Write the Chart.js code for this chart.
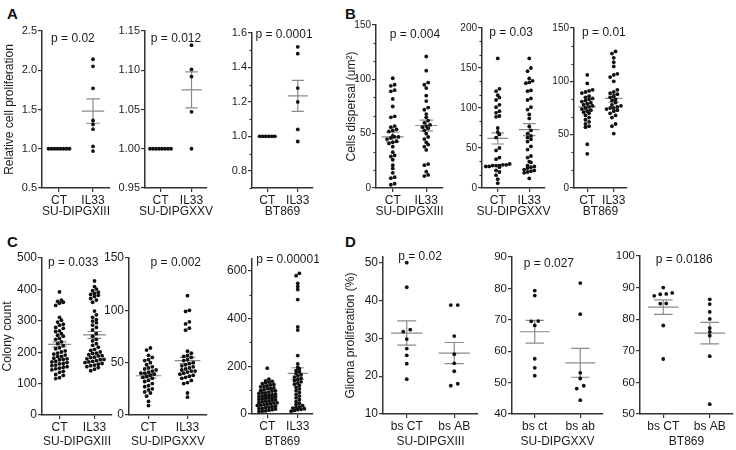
<!DOCTYPE html>
<html>
<head>
<meta charset="utf-8">
<title>IL33 dot plots</title>
<script src="https://cdn.jsdelivr.net/npm/chart.js@4.4.1/dist/chart.umd.min.js"></script>
<style>
  body { margin: 0; width: 736px; height: 450px; background: #fff; position: relative; overflow: hidden; }
  canvas { position: absolute; }
  .tag { position: absolute; font: bold 15px "Liberation Sans", Arial, sans-serif; color: #111; }
</style>
</head>
<body>
<div class="tag" style="left:7px;top:5px">A</div>
<div class="tag" style="left:345px;top:5px">B</div>
<div class="tag" style="left:7px;top:233px">C</div>
<div class="tag" style="left:345px;top:233px">D</div>
<script>
'use strict';

// ******* DATA ********
const cellLines = ['SU-DIPGXIII', 'SU-DIPGXXV', 'BT869'];
const groupsIL = ['CT', 'IL33'];
const groupsBs = ['bs CT', 'bs AB'];
const groupsBsLow = ['bs ct', 'bs ab'];

// A - relative cell proliferation
const profXiiiCT = [1, 1, 1, 1, 1, 1, 1, 1];
const profXiiiIL = [2.14, 2.05, 1.77, 1.36, 1.31, 1.25, 1.03, 0.97];
const profXxvCT = [1, 1, 1, 1, 1, 1, 1, 1];
const profXxvIL = [1.132, 1.101, 1.092, 1.047, 1.0];
const profBtCT = [1, 1, 1, 1, 1, 1];
const profBtIL = [1.52, 1.48, 1.28, 1.2, 1.04, 0.97];
const profMean = [[1, 1.48], [1, 1.075], [1, 1.235]];
const profSem = [[0, 0.155], [0, 0.023], [0, 0.09]];
const profP = ['p = 0.02', 'p = 0.012', 'p = 0.0001'];
const profTicks = [[0.5, 1, 1.5, 2, 2.5], [0.95, 1, 1.05, 1.1, 1.15], [0.8, 1, 1.2, 1.4, 1.6]];

// B - cells dispersal
const dispXiiiCT = [101, 95, 94, 90, 89, 82, 75, 66, 65, 57, 56, 54, 53, 52, 48, 47, 47, 46, 45, 43, 42, 41, 38, 33, 30, 29, 26, 21, 18, 14, 10, 9, 4, 3];
const dispXiiiIL = [121, 108, 97, 95, 92, 85, 80, 74, 72, 68, 65, 62, 60, 58, 57, 56, 55, 53, 50, 47, 45, 42, 40, 38, 35, 22, 21, 15, 12, 11];
const dispXxvCT = [162, 124, 121, 116, 113, 110, 104, 101, 96, 94, 90, 89, 75, 70, 67, 63, 50, 47, 38, 36, 30, 29, 29, 28, 28, 28, 27, 27, 26, 22, 20, 16, 11, 6];
const dispXxvIL = [162, 150, 146, 137, 134, 132, 131, 122, 121, 112, 110, 101, 98, 92, 87, 77, 72, 68, 65, 63, 61, 58, 52, 48, 40, 38, 33, 32, 28, 27, 26, 25, 23, 22, 21, 20, 19, 12];
const dispBtCT = [106, 98, 92, 91, 90, 89, 86, 85, 84, 83, 82, 81, 80, 79, 78, 77, 76, 75, 74, 73, 72, 71, 70, 68, 66, 64, 62, 60, 58, 57, 41, 32];
const dispBtIL = [128, 126, 122, 118, 114, 107, 106, 104, 100, 92, 90, 89, 88, 86, 85, 83, 82, 80, 78, 77, 76, 75, 75, 74, 73, 72, 70, 68, 66, 60, 58, 51];
const dispMean = [[47, 57.5], [62, 73], [76, 84]];
const dispSem = [[4.5, 5], [7, 7.5], [2.8, 3.5]];
const dispP = ['p = 0.004', 'p = 0.03', 'p = 0.01'];
const dispTicks = [[0, 50, 100, 150], [0, 50, 100, 150, 200], [0, 50, 100, 150]];

// C - colony count
const colXiiiCT = [392, 366, 362, 359, 356, 349, 311, 302, 296, 289, 286, 279, 276, 268, 266, 259, 254, 251, 244, 241, 233, 227, 221, 214, 211, 204, 201, 197, 194, 191, 187, 186, 181, 179, 177, 176, 171, 169, 167, 164, 163, 159, 157, 154, 152, 149, 147, 144, 139, 136, 129, 126, 119, 116];
const colXiiiIL = [427, 409, 401, 396, 391, 387, 384, 381, 377, 371, 366, 359, 331, 319, 311, 304, 299, 294, 286, 279, 271, 259, 251, 241, 236, 227, 222, 216, 209, 206, 201, 197, 196, 192, 189, 188, 184, 183, 179, 177, 176, 173, 171, 169, 167, 164, 162, 159, 157, 154, 151, 146, 141];
const colXxvCT = [64, 62, 57, 55, 53, 52, 50, 48, 46, 45, 44, 43, 42, 41, 40, 40, 39, 38, 37, 36, 35, 33, 32, 30, 28, 27, 25, 24, 22, 21, 18, 13, 9];
const colXxvIL = [114, 100, 99, 89, 87, 83, 81, 61, 59, 57, 56, 55, 53, 52, 50, 49, 48, 47, 46, 45, 44, 43, 42, 42, 41, 40, 39, 38, 37, 36, 35, 33, 31, 30, 21, 17];
const colBtCT = [192, 146, 139, 137, 134, 131, 127, 124, 122, 118, 116, 114, 109, 107, 106, 102, 99, 97, 96, 92, 89, 88, 86, 83, 81, 79, 78, 75, 73, 72, 69, 68, 66, 63, 61, 59, 58, 55, 53, 51, 49, 47, 46, 43, 41, 39, 37, 36, 33, 31, 28, 27, 24, 22, 21, 18, 16, 13, 12, 10];
const colBtIL = [590, 580, 548, 535, 522, 480, 365, 352, 245, 210, 195, 190, 182, 178, 170, 165, 160, 155, 150, 145, 140, 135, 130, 125, 120, 112, 105, 98, 90, 82, 75, 68, 60, 52, 45, 40, 35, 30, 28, 25, 22, 20, 18, 15, 12];
const colMean = [[225, 255], [37.5, 52], [68, 170]];
const colSem = [[8, 11], [2.2, 3], [6, 24]];
const colP = ['p = 0.033', 'p = 0.002', 'p = 0.00001'];
const colTicks = [[0, 100, 200, 300, 400, 500], [0, 50, 100, 150], [0, 200, 400, 600]];

// D - glioma proliferation
const gliXiiiCT = [50.0, 43.5, 32.3, 31.8, 29.8, 27.3, 25.5, 23.3, 19.2];
const gliXiiiAB = [38.8, 38.8, 30.6, 25.8, 23.4, 21.3, 18.0, 17.5];
const gliXxvCT = [79.3, 77.7, 69.6, 69.5, 68.2, 57.6, 54.7, 52.2];
const gliXxvAB = [81.7, 71.8, 53.1, 51.3, 49.0, 48.1, 44.4];
const gliBtCT = [90.0, 88.3, 88.0, 87.9, 87.4, 85.0, 84.9, 78.0, 67.4];
const gliBtAB = [86.3, 84.8, 82.3, 80.1, 77.2, 76.0, 74.8, 68.3, 53.1];
const gliMean = [[31.4, 26.1], [66.2, 56.3], [83.8, 75.6]];
const gliSem = [[3.2, 2.8], [3.6, 4.6], [2.3, 3.4]];
const gliP = ['p = 0.02', 'p = 0.027', 'p = 0.0186'];
const gliTicks = [[10, 20, 30, 40, 50], [40, 50, 60, 70, 80, 90], [50, 60, 70, 80, 90, 100]];

// ******* STYLE ********
const axisColor = '#333';
const dotColor = '#111';
const barColor = '#8a8a8a';
const fontFamily = '"Liberation Sans", Arial, sans-serif';
Chart.defaults.font.family = fontFamily;
Chart.defaults.color = '#1a1a1a';

// minor ticks splitting every major interval in n parts
function minorsOf(ticks, n) {
  let out = [];
  for (let i = 0; i < ticks.length - 1; i++) {
    let step = (ticks[i + 1] - ticks[i]) / n;
    for (let k = 1; k < n; k++) out.push(ticks[i] + k * step);
  }
  return out;
}

// ******* PANEL LAYOUT ********
let panels = [
  {x0: 42, x1: 110, y0: 31, y1: 188, left: 2, min: 0.5, max: 2.5, ticks: profTicks[0], dec: 1, tickSize: 11,
    groups: groupsIL, line: cellLines[0], sets: [profXiiiCT, profXiiiIL], mean: profMean[0], sem: profSem[0],
    p: profP[0], pX: 1.41, pDy: 8, yTitle: 'Relative cell proliferation', gap: 3, bin: 3, xh: 31},
  {x0: 145, x1: 207, y0: 31, y1: 188, min: 0.95, max: 1.15, ticks: profTicks[1], dec: 2, tickSize: 11,
    groups: groupsIL, line: cellLines[1], sets: [profXxvCT, profXxvIL], mean: profMean[1], sem: profSem[1],
    p: profP[1], pX: 1.5, pDy: 8, gap: 3, bin: 3, xh: 31},
  {x0: 252, x1: 313, y0: 33, y1: 188, min: 0.7, max: 1.6, ticks: profTicks[2], dec: 1, tickSize: 11,
    minor: [0.7, 0.9, 1.1, 1.3, 1.5],
    groups: groupsIL, line: cellLines[2], sets: [profBtCT, profBtIL], mean: profMean[2], sem: profSem[2],
    p: profP[2], pX: 1.55, pDy: 2, gap: 3, bin: 3, xh: 31},
  {x0: 376, x1: 443, y0: 25, y1: 188, left: 344, min: 0, max: 150, ticks: dispTicks[0], dec: 0, tickSize: 10,
    minor: minorsOf(dispTicks[0], 3),
    groups: groupsIL, line: cellLines[0], sets: [dispXiiiCT, dispXiiiIL], mean: dispMean[0], sem: dispSem[0],
    p: dispP[0], pX: 1.66, pDy: 10, yTitle: 'Cells dispersal (um\u00b2)', gap: 3.8, bin: 3.2, xh: 31},
  {x0: 482, x1: 545, y0: 28, y1: 188, min: 0, max: 200, ticks: dispTicks[1], dec: 0, tickSize: 10,
    minor: minorsOf(dispTicks[1], 3),
    groups: groupsIL, line: cellLines[1], sets: [dispXxvCT, dispXxvIL], mean: dispMean[1], sem: dispSem[1],
    p: dispP[1], pX: 1.42, pDy: 5, gap: 3.4, bin: 3.2, xh: 31},
  {x0: 574, x1: 627, y0: 28, y1: 188, min: 0, max: 150, ticks: dispTicks[2], dec: 0, tickSize: 10,
    minor: minorsOf(dispTicks[2], 3),
    groups: groupsIL, line: cellLines[2], sets: [dispBtCT, dispBtIL], mean: dispMean[2], sem: dispSem[2],
    p: dispP[2], pX: 1.63, pDy: 5, gap: 3.6, bin: 3.2, xh: 31},
  {x0: 42, x1: 112, y0: 258, y1: 415, left: 0, min: 0, max: 500, ticks: colTicks[0], dec: 0, tickSize: 12,
    groups: groupsIL, line: cellLines[0], sets: [colXiiiCT, colXiiiIL], mean: colMean[0], sem: colSem[0],
    p: colP[0], pX: 1.39, pDy: 5, yTitle: 'Colony count', gap: 3.8, bin: 3.2, xh: 34},
  {x0: 129, x1: 207, y0: 258, y1: 415, min: 0, max: 150, ticks: colTicks[1], dec: 0, tickSize: 12,
    groups: groupsIL, line: cellLines[1], sets: [colXxvCT, colXxvIL], mean: colMean[1], sem: colSem[1],
    p: colP[1], pX: 1.7, pDy: 5, gap: 3.8, bin: 3.2, xh: 34},
  {x0: 252, x1: 313, y0: 259, y1: 414, min: 0, max: 650, ticks: colTicks[2], dec: 0, tickSize: 12,
    minor: [100, 300, 500],
    groups: groupsIL, line: cellLines[2], sets: [colBtCT, colBtIL], mean: colMean[2], sem: colSem[2],
    p: colP[2], pX: 1.68, pDy: 1, gap: 3.3, bin: 2.7, xh: 35},
  {x0: 383, x1: 478, y0: 257, y1: 414, left: 343, min: 10, max: 51.5, ticks: gliTicks[0], dec: 0, tickSize: 12,
    groups: groupsBs, line: cellLines[0], sets: [gliXiiiCT, gliXiiiAB], mean: gliMean[0], sem: gliSem[0],
    p: gliP[0], pX: 1.28, pDy: 0, yTitle: 'Glioma proliferation (%)', gap: 7, bin: 3.5, xh: 35},
  {x0: 512, x1: 603, y0: 257, y1: 414, min: 40, max: 90, ticks: gliTicks[1], dec: 0, tickSize: 11.5,
    groups: groupsBsLow, line: cellLines[1], sets: [gliXxvCT, gliXxvAB], mean: gliMean[1], sem: gliSem[1],
    p: gliP[1], pX: 1.31, pDy: 7, gap: 7, bin: 3.5, xh: 35},
  {x0: 640, x1: 733, y0: 256, y1: 414, min: 50, max: 100, ticks: gliTicks[2], dec: 0, tickSize: 11.5,
    groups: groupsBs, line: cellLines[2], sets: [gliBtCT, gliBtAB], mean: gliMean[2], sem: gliSem[2],
    p: gliP[2], pX: 1.45, pDy: 4, gap: 6, bin: 3.5, xh: 35}
];

// ****** HELPERS ******

// Prism-like column scatter: close values share a centred row
function swarm(values, center, p) {
  let pyPer = (p.y1 - p.y0) / (p.max - p.min);
  let pxPer = (p.x1 - p.x0) / 2;
  let sorted = values.slice().sort((a, b) => a - b);
  let rows = [];
  let row = null;
  sorted.forEach(v => {
    let py = (v - p.min) * pyPer;
    if (!row || py - row.start > p.bin) {
      row = {start: py, vals: []};
      rows.push(row);
    }
    row.vals.push(v);
  });
  let pts = [];
  rows.forEach(r => {
    r.vals.forEach((v, k) => {
      let off = (k - (r.vals.length - 1) / 2) * p.gap;
      pts.push({x: center + off / pxPer, y: v});
    });
  });
  return pts;
}

// mean line + SEM whiskers as one broken line
function errorBar(center, mean, sem) {
  let m = 0.33, w = 0.2;
  return [
    {x: center - m, y: mean}, {x: center + m, y: mean}, {x: center, y: null},
    {x: center - w, y: mean + sem}, {x: center + w, y: mean + sem}, {x: center, y: null},
    {x: center - w, y: mean - sem}, {x: center + w, y: mean - sem}, {x: center, y: null},
    {x: center, y: mean - sem}, {x: center, y: mean + sem}
  ];
}

let decor = {
  id: 'decor',
  afterDraw(chart) {
    let p = chart.options.plugins.decor;
    let ctx = chart.ctx;
    let area = chart.chartArea;
    ctx.save();
    if (p.minor) {
      ctx.strokeStyle = axisColor;
      ctx.lineWidth = 1.2;
      p.minor.forEach(v => {
        let y = Math.round(chart.scales.y.getPixelForValue(v)) + 0.5;
        ctx.beginPath();
        ctx.moveTo(area.left - 2.5, y);
        ctx.lineTo(area.left, y);
        ctx.stroke();
      });
    }
    ctx.fillStyle = '#1a1a1a';
    ctx.font = '12px ' + fontFamily;
    ctx.textAlign = 'center';
    ctx.textBaseline = 'middle';
    // p value
    ctx.fillText(p.p, chart.scales.x.getPixelForValue(p.pX), area.top + p.pDy);
    // cell line name under the group labels
    ctx.fillText(p.line, (area.left + area.right) / 2, area.bottom + p.xh - 7.5);
    ctx.restore();
  }
};

function buildPanel(p) {
  let left = p.left !== undefined ? p.left : p.x0 - 32;
  let axisW = p.x0 - left;
  let top = p.y0 - 10;
  let w = p.x1 - left + 6;
  let h = p.y1 - top + p.xh;

  let cv = document.createElement('canvas');
  cv.width = w;
  cv.height = h;
  cv.style.left = left + 'px';
  cv.style.top = top + 'px';
  cv.style.width = w + 'px';
  cv.style.height = h + 'px';
  document.body.appendChild(cv);

  let datasets = [];
  p.sets.forEach((vals, i) => {
    datasets.push({
      data: swarm(vals, i + 1, p),
      pointRadius: 1.9,
      pointBackgroundColor: dotColor,
      pointBorderWidth: 0,
      showLine: false,
      clip: false
    });
  });
  p.sets.forEach((vals, i) => {
    datasets.push({
      data: errorBar(i + 1, p.mean[i], p.sem[i]),
      showLine: true,
      spanGaps: false,
      pointRadius: 0,
      borderColor: barColor,
      borderWidth: 1.2,
      clip: false
    });
  });

  new Chart(cv, {
    type: 'scatter',
    data: {datasets: datasets},
    options: {
      responsive: false,
      animation: false,
      events: [],
      layout: {padding: {top: 10, right: 6, left: 0, bottom: 0}},
      plugins: {legend: {display: false}, tooltip: {enabled: false}, decor: p},
      scales: {
        x: {
          type: 'linear', min: 0.5, max: 2.5,
          afterBuildTicks: s => { s.ticks = [{value: 1}, {value: 2}]; },
          afterFit: s => { s.height = p.xh; },
          ticks: {callback: v => p.groups[v - 1], font: {size: 12}, padding: 1, maxRotation: 0, autoSkip: false},
          grid: {drawOnChartArea: false, tickLength: 4, color: axisColor, lineWidth: 1.2},
          border: {color: axisColor, width: 1.5}
        },
        y: {
          min: p.min, max: p.max,
          afterBuildTicks: s => { s.ticks = p.ticks.map(v => ({value: v})); },
          afterFit: s => { s.width = axisW; },
          ticks: {callback: v => v.toFixed(p.dec), font: {size: p.tickSize}, padding: 1, autoSkip: false},
          grid: {drawOnChartArea: false, tickLength: 4, color: axisColor, lineWidth: 1.2},
          border: {color: axisColor, width: 1.5},
          title: {display: !!p.yTitle, text: p.yTitle || '', font: {size: 12}, padding: 0}
        }
      }
    },
    plugins: [decor]
  });
}

// ***** EXECUTABLE CODE ******
panels.forEach(buildPanel);
</script>
</body>
</html>
